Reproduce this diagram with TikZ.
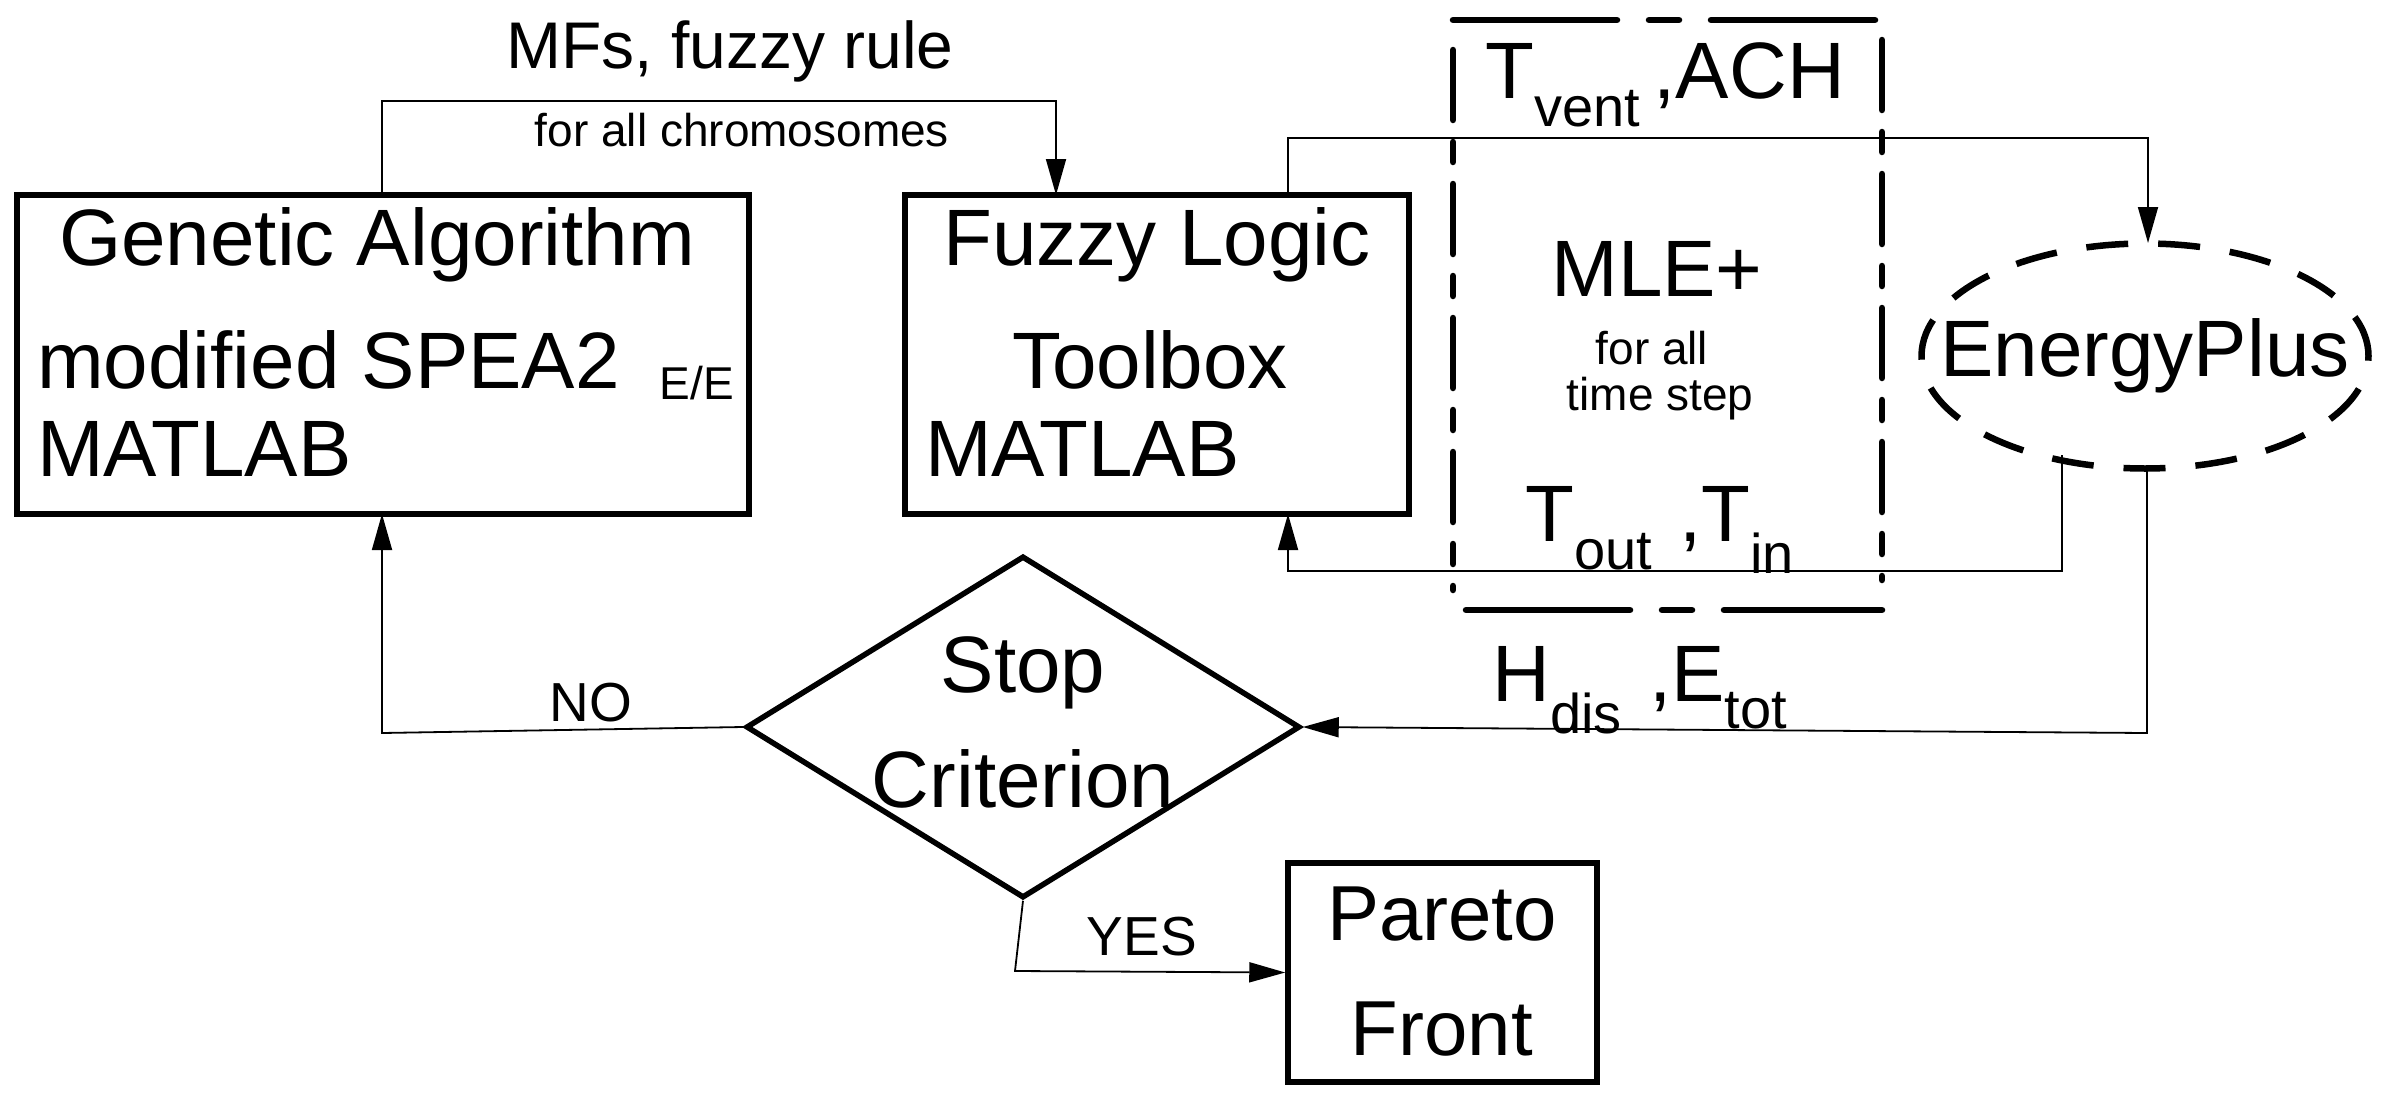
\documentclass[tikz,border=0pt]{standalone}
\usepackage{fontspec}
\setmainfont{Liberation Sans}
\usetikzlibrary{arrows.meta,shapes.geometric}
\begin{document}
\begin{tikzpicture}[x=1pt,y=-1pt,
  box/.style={draw,line width=5.5pt,inner sep=0pt},
  con/.style={line width=1.8pt},
  arr/.style={con,-{Triangle[length=36pt,width=20pt]}},
  big/.style={font=\fontsize{80}{90}\selectfont,inner sep=0pt},
  mid/.style={font=\fontsize{55}{60}\selectfont,inner sep=0pt},
  sm/.style={font=\fontsize{46}{52}\selectfont,inner sep=0pt},
  dbox/.style={line width=6.5pt,line cap=round}]
\useasboundingbox (0,0) rectangle (2394,1100);
% boxes
\node[box,minimum width=732pt,minimum height=319pt] (ga) at (383,354.5) {};
\node[box,minimum width=504pt,minimum height=319pt] (fl) at (1157,354.5) {};
\node[box,minimum width=309pt,minimum height=219pt] (pf) at (1442.5,972.5) {};
\node[draw,diamond,line width=5.5pt,minimum width=554pt,minimum height=342pt,inner sep=0pt] (sc) at (1023,727) {};
\node[draw,ellipse,line width=6.5pt,dash pattern=on 42pt off 30pt,minimum width=447pt,minimum height=225pt,inner sep=0pt] (ep) at (2145,356) {};
% dashed MLE+ box
\draw[dbox,dash pattern=on 164pt off 32pt on 30pt off 32pt] (1453,20) -- (1880,20);
\draw[dbox,dash pattern=on 164pt off 32pt on 30pt off 32pt] (1466,610) -- (1882,610);
\draw[dbox,dash pattern=on 70pt off 22pt on 20pt off 22pt] (1453,50) -- (1453,590);
\draw[dbox,dash pattern=on 70pt off 22pt on 20pt off 22pt] (1882,40) -- (1882,580);
% texts
\node[big] (t1) at (377,245) {Genetic Algorithm};
\node[big,anchor=west] (t2) at (37,360) {modified SPEA2};
\node[sm] (t3) at (697,383) {E/E};
\node[big,anchor=west] (t4) at (37,449) {MATLAB};
\node[big] (t5) at (1157,245) {Fuzzy Logic};
\node[big] (t6) at (1150,360) {Toolbox};
\node[big,anchor=west] (t7) at (925,449) {MATLAB};
\node[font=\fontsize{66}{70}\selectfont,inner sep=0pt] (t8) at (730,51) {MFs, fuzzy rule};
\node[sm] (t9) at (742,130) {for all chromosomes};
\node[big] (t10) at (1665,85) {T\textsubscript{vent}\,,ACH};
\node[big] (t11) at (1657,269) {MLE+};
\node[sm] (t12) at (1652,348) {for all};
\node[sm] (t13) at (1660,399) {time step};
\node[big] (t14) at (1660,530) {T\textsubscript{out}\,\,,T\textsubscript{in}};
\node[big] (t15) at (2145,356) {EnergyPlus};
\node[big] (t16) at (1640,690) {H\textsubscript{dis}\,\,,E\textsubscript{tot}};
\node[big,align=center,font=\fontsize{80}{115}\selectfont] (t17) at (1023,722) {Stop\\Criterion};
\node[big,align=center,font=\fontsize{78}{115}\selectfont] (t18) at (1442,972) {Pareto\\Front};
\node[mid] (t19) at (591,703) {NO};
\node[mid] (t20) at (1142,937) {YES};
% coordinates for connectors
\coordinate (gaT) at (382,195);
\coordinate (gaB) at (382,514);
\coordinate (flT) at (1056,195);
\coordinate (flTR) at (1288,195);
\coordinate (flB) at (1288,514);
\coordinate (epT) at (2148,243);
\coordinate (epB1) at (2062,455);
\coordinate (epB2) at (2147,468);
% connectors
\draw[arr] (gaT) -- (382,101) -- (1056,101) -- (flT);
\draw[arr] (flTR) -- (1288,138) -- (2148,138) -- (epT);
\draw[arr] (epB1) -- (2062,571) -- (1288,571) -- (flB);
\draw[arr] (epB2) -- (2147,733) -- (sc.east);
\draw[arr] (sc.west) -- (382,733) -- (gaB);
\draw[arr] (sc.south) -- (1015,971) -- (pf.west);
\end{tikzpicture}
\end{document}
